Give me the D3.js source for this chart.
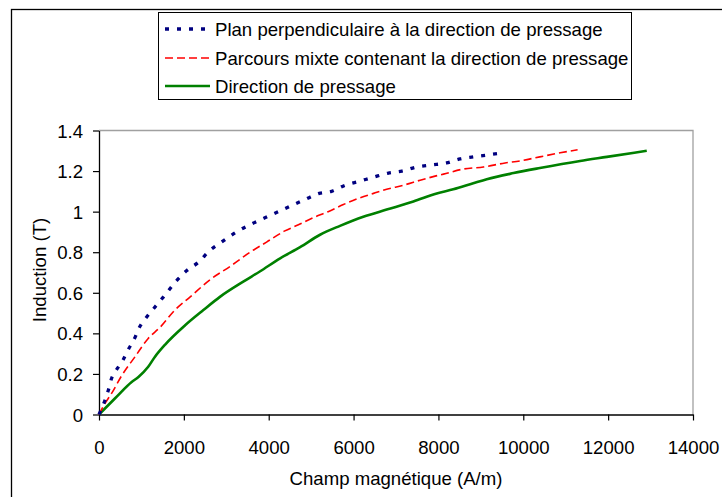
<!DOCTYPE html>
<html><head><meta charset="utf-8">
<script src="https://cdn.jsdelivr.net/npm/d3@7"></script>
<style>body{margin:0;background:#fff}svg{display:block}text{font-family:"Liberation Sans",Arial,sans-serif;fill:#000}</style>
</head><body>
<svg id="c" width="722" height="497"></svg>
<script>
// Data
const seriesNames = ["Plan perpendiculaire à la direction de pressage","Parcours mixte contenant la direction de pressage","Direction de pressage"];
const perpH = [0,140,220,300,380,570,690,850,930,1120,1280,1520,1830,2070,2340,2620,2890,3240,3600,3910,4230,4540,4860,5190,5480,5800,6140,6470,6820,7140,7490,7840,8190,8510,8820,9180,9530];
const perpB = [0,0.07,0.12,0.18,0.21,0.27,0.32,0.38,0.42,0.48,0.52,0.58,0.66,0.71,0.75,0.81,0.85,0.90,0.94,0.97,1.00,1.03,1.06,1.09,1.10,1.13,1.15,1.17,1.19,1.20,1.22,1.23,1.24,1.26,1.27,1.28,1.29];
const mixH = [0,100,300,530,850,1160,1440,1790,2150,2620,3090,3560,3950,4380,4700,5050,5400,5760,6110,6470,6780,7170,7570,7920,8120,8590,9060,9570,9920,10390,10870,11280];
const mixB = [0,0.04,0.105,0.19,0.285,0.375,0.43,0.515,0.58,0.665,0.73,0.80,0.85,0.905,0.935,0.97,1.00,1.035,1.065,1.09,1.11,1.13,1.155,1.175,1.185,1.21,1.22,1.24,1.25,1.27,1.29,1.305];
const dirH = [0,380,770,930,1160,1320,1560,2030,2460,2850,3400,3790,4270,4740,5210,5680,6230,6780,7410,7960,8350,8820,9140,9770,10390,11340,11970,12910];
const dirB = [0,0.08,0.16,0.185,0.235,0.285,0.345,0.44,0.515,0.58,0.655,0.705,0.77,0.825,0.886,0.93,0.975,1.01,1.05,1.09,1.11,1.14,1.16,1.19,1.215,1.25,1.27,1.30];
const xTicks = [0,2000,4000,6000,8000,10000,12000,14000];
const yTicks = [0,0.2,0.4,0.6,0.8,1,1.2,1.4];
const xTitle = "Champ magnétique (A/m)";
const yTitle = "Induction (T)";

const FS = 18.6;
const svg = d3.select("#c");
const L = 99, R = 693, T = 130.5, B = 414.5;
const x = d3.scaleLinear().domain([0,14000]).range([L,R]);
const y = d3.scaleLinear().domain([0,1.4]).range([B,T]);

// outer frame
svg.append("rect").attr("x",11.5).attr("y",9.5).attr("width",900).attr("height",900)
  .attr("fill","none").attr("stroke","#000").attr("stroke-width",1.3);

// plot area border (gray top/right)
svg.append("path").attr("d",`M${L},${T}H${R}V${B}`).attr("fill","none").attr("stroke","#a0a0a0").attr("stroke-width",1.3);

// axes
const xa = svg.append("g").attr("transform",`translate(0,${B})`)
  .call(d3.axisBottom(x).tickValues(xTicks).tickFormat(d3.format("d")).tickSizeOuter(0).tickSizeInner(6).tickPadding(20));
const ya = svg.append("g").attr("transform",`translate(${L},0)`)
  .call(d3.axisLeft(y).tickValues(yTicks).tickFormat(d=>String(d)).tickSizeOuter(0).tickSizeInner(6).tickPadding(10));
[xa,ya].forEach(g=>{
  g.select(".domain").attr("stroke","#000").attr("stroke-width",1.3);
  g.selectAll(".tick line").attr("stroke","#000").attr("stroke-width",1.2);
  g.selectAll("text").attr("font-size",FS).attr("font-family","Liberation Sans, Arial, sans-serif").attr("fill","#000");
});
ya.selectAll("text").attr("dy","0.35em");

svg.append("text").attr("x",(L+R)/2).attr("y",485).attr("text-anchor","middle").attr("font-size",FS).text(xTitle);
svg.append("text").attr("transform",`translate(46,270) rotate(-90)`).attr("text-anchor","middle").attr("font-size",FS).text(yTitle);

const styles = [
  {color:"#000080", width:3.3, dash:"4,8"},
  {color:"#ff0000", width:1.6, dash:"8,4"},
  {color:"#008000", width:2.6, dash:null}
];
const data = [
  perpH.map((h,i)=>[h,perpB[i]]),
  mixH.map((h,i)=>[h,mixB[i]]),
  dirH.map((h,i)=>[h,dirB[i]])
];
const line = d3.line().x(d=>x(d[0])).y(d=>y(d[1])).curve(d3.curveMonotoneX);
[2,1,0].forEach(i=>{
  svg.append("path").datum(data[i]).attr("d",line).attr("fill","none")
    .attr("stroke",styles[i].color).attr("stroke-width",styles[i].width)
    .attr("stroke-dasharray",styles[i].dash);
});

// legend
const lg = svg.append("g");
lg.append("rect").attr("x",158.5).attr("y",12.5).attr("width",473).attr("height",87)
  .attr("fill","#fff").attr("stroke","#000").attr("stroke-width",1);
const rowsY = [29,58,86];
seriesNames.forEach((n,i)=>{
  lg.append("line").attr("x1",165).attr("x2",210).attr("y1",rowsY[i]).attr("y2",rowsY[i])
    .attr("stroke",styles[i].color).attr("stroke-width",styles[i].width).attr("stroke-dasharray",styles[i].dash);
  lg.append("text").attr("x",215).attr("y",rowsY[i]).attr("dy","0.35em").attr("font-size",FS).text(n);
});
</script>
</body></html>
